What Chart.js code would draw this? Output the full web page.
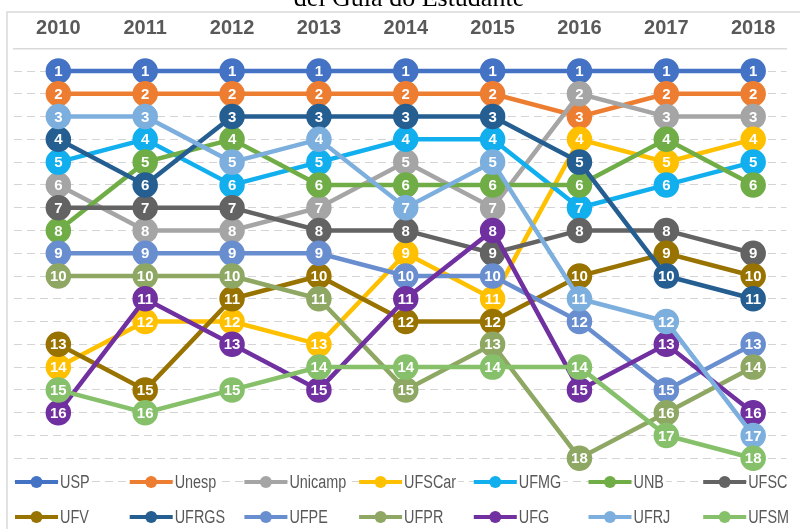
<!DOCTYPE html>
<html>
<head>
<meta charset="utf-8">
<script src="https://cdn.jsdelivr.net/npm/chart.js@4.4.0/dist/chart.umd.min.js"></script>
<style>
html, body { margin: 0; padding: 0; background: #fff; }
#wrap { width: 800px; height: 529px; position: relative; }
</style>
</head>
<body>
<div id="wrap"><canvas id="chart"></canvas></div>
<script>
// rankings per year (lower is better)
var years = ['2010', '2011', '2012', '2013', '2014', '2015', '2016', '2017', '2018'];
var rankTicks = [1, 2, 3, 4, 5, 6, 7, 8, 9, 10, 11, 12, 13, 14, 15, 16, 17, 18, 19];

var names = ['USP', 'Unesp', 'Unicamp', 'UFSCar', 'UFMG', 'UNB', 'UFSC',
             'UFV', 'UFRGS', 'UFPE', 'UFPR', 'UFG', 'UFRJ', 'UFSM'];
var colors = ['#4472C4', '#ED7D31', '#A5A5A5', '#FFC000', '#12AFEF', '#70AD47', '#636363',
              '#997300', '#255E91', '#698ED0', '#8EA863', '#7030A0', '#7CAFDD', '#86C06A'];

var rUSP     = [1, 1, 1, 1, 1, 1, 1, 1, 1];
var rUnesp   = [2, 2, 2, 2, 2, 2, 3, 2, 2];
var rUnicamp = [6, 8, 8, 7, 5, 7, 2, 3, 3];
var rUFSCar  = [14, 12, 12, 13, 9, 11, 4, 5, 4];
var rUFMG    = [5, 4, 6, 5, 4, 4, 7, 6, 5];
var rUNB     = [8, 5, 4, 6, 6, 6, 6, 4, 6];
var rUFSC    = [7, 7, 7, 8, 8, 9, 8, 8, 9];
var rUFV     = [13, 15, 11, 10, 12, 12, 10, 9, 10];
var rUFRGS   = [4, 6, 3, 3, 3, 3, 5, 10, 11];
var rUFPE    = [9, 9, 9, 9, 10, 10, 12, 15, 13];
var rUFPR    = [10, 10, 10, 11, 15, 13, 18, 16, 14];
var rUFG     = [16, 11, 13, 15, 11, 8, 15, 13, 16];
var rUFRJ    = [3, 3, 5, 4, 7, 5, 11, 12, 17];
var rUFSM    = [15, 16, 15, 14, 14, 14, 14, 17, 18];

var ranks = [rUSP, rUnesp, rUnicamp, rUFSCar, rUFMG, rUNB, rUFSC,
             rUFV, rUFRGS, rUFPE, rUFPR, rUFG, rUFRJ, rUFSM];

var datasets = [];
for (var i = 0; i < names.length; i++) {
    var pts = [];
    for (var j = 0; j < years.length; j++) {
        pts.push({x: j, y: ranks[i][j]});
    }
    datasets.push({
        label: names[i],
        data: pts,
        borderColor: colors[i],
        backgroundColor: colors[i],
        pointBackgroundColor: colors[i],
        pointBorderColor: colors[i],
        borderWidth: 4.5,
        pointRadius: 12,
        pointBorderWidth: 1.5,
        tension: 0,
        order: -i
    });
}

var frame = {
    id: 'frame',
    beforeDraw: function(chart) {
        var ctx = chart.ctx;
        ctx.save();
        ctx.fillStyle = '#fff';
        ctx.fillRect(0, 0, chart.width, chart.height);
        ctx.strokeStyle = '#d9d9d9';
        ctx.lineWidth = 1.5;
        ctx.beginPath();
        ctx.moveTo(7, chart.height);
        ctx.lineTo(7, 12);
        ctx.lineTo(chart.width, 12);
        ctx.stroke();
        ctx.restore();
    },
    afterDraw: function(chart) {
        var ctx = chart.ctx;
        ctx.save();
        ctx.fillStyle = '#000';
        ctx.font = '26px "Liberation Serif", serif';
        ctx.textAlign = 'center';
        ctx.textBaseline = 'alphabetic';
        ctx.fillText('del Guia do Estudante', 409, 6);
        ctx.restore();
    }
};

var pointLabels = {
    id: 'pointLabels',
    afterDatasetDraw: function(chart, args) {
        var ctx = chart.ctx;
        var meta = args.meta;
        var ds = chart.data.datasets[args.index];
        ctx.save();
        ctx.fillStyle = '#fff';
        ctx.font = 'bold 15px "Liberation Sans", sans-serif';
        ctx.textAlign = 'center';
        ctx.textBaseline = 'middle';
        for (var k = 0; k < meta.data.length; k++) {
            var p = meta.data[k];
            ctx.fillText(String(ds.data[k].y), p.x, p.y + 1);
        }
        ctx.restore();
    }
};

// excel style legend, 7 per row, narrow text
var legendRows = {
    id: 'legendRows',
    afterDraw: function(chart) {
        var ctx = chart.ctx;
        var squeeze = 0.8;
        ctx.save();
        ctx.font = '18px "Liberation Sans", sans-serif';
        ctx.textBaseline = 'middle';
        ctx.textAlign = 'left';
        for (var n = 0; n < names.length; n++) {
            var col = n % 7;
            var row = Math.floor(n / 7);
            var x0 = 15 + col * 114.7;
            var y0 = row === 0 ? 482 : 517;
            var w = ctx.measureText(names[n]).width * squeeze;
            ctx.fillStyle = '#fff';
            ctx.fillRect(x0 + 44, y0 - 10, w + 3, 20);
            ctx.strokeStyle = colors[n];
            ctx.lineWidth = 4;
            ctx.beginPath();
            ctx.moveTo(x0, y0);
            ctx.lineTo(x0 + 43, y0);
            ctx.stroke();
            ctx.fillStyle = colors[n];
            ctx.beginPath();
            ctx.arc(x0 + 21.5, y0, 6, 0, Math.PI * 2);
            ctx.fill();
            ctx.save();
            ctx.translate(x0 + 45, y0 + 1);
            ctx.scale(squeeze, 1);
            ctx.fillStyle = '#595959';
            ctx.fillText(names[n], 0, 0);
            ctx.restore();
        }
        ctx.restore();
    }
};

new Chart(document.getElementById('chart'), {
    type: 'line',
    data: {datasets: datasets},
    options: {
        responsive: true,
        maintainAspectRatio: false,
        animation: false,
        layout: {padding: {left: 7, right: 0, top: 12, bottom: 48}},
        plugins: {
            legend: {display: false},
            tooltip: {enabled: false},
            title: {display: false}
        },
        scales: {
            x: {
                type: 'linear',
                position: 'top',
                min: -0.5163,
                max: 8.3838,
                afterBuildTicks: function(s) {
                    s.ticks = years.map(function(y, i) { return {value: i}; });
                },
                afterFit: function(s) { s.height = 37; },
                grid: {display: false, drawTicks: false},
                border: {display: true, color: '#d9d9d9', width: 1.5},
                ticks: {
                    padding: 9,
                    color: '#595959',
                    maxRotation: 0,
                    autoSkip: false,
                    font: {family: '"Liberation Sans", sans-serif', size: 20, weight: 'bold'},
                    callback: function(v) { return years[v]; }
                }
            },
            y: {
                reverse: true,
                min: 0.034,
                max: 19,
                afterBuildTicks: function(s) {
                    s.ticks = rankTicks.map(function(v) { return {value: v}; });
                },
                afterFit: function(s) { s.width = 0; },
                grid: {color: '#d4d4d4', lineWidth: 1, drawTicks: false},
                border: {display: false, dash: [8, 5]},
                ticks: {display: false}
            }
        }
    },
    plugins: [frame, pointLabels, legendRows]
});
</script>
</body>
</html>
